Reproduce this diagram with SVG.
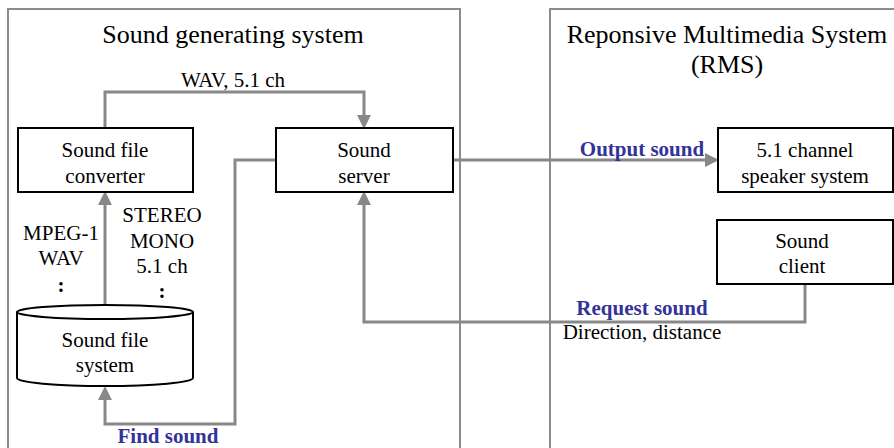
<svg xmlns="http://www.w3.org/2000/svg" width="894" height="448" viewBox="0 0 894 448">
  <style>
    text { font-family: "Liberation Serif", "Times New Roman", serif; fill: #000; text-anchor: middle; }
    .title { font-size: 26px; }
    .lbl { font-size: 21px; }
    .dots { font-size: 21px; font-weight: bold; }
    .blue { font-size: 21px; font-weight: bold; fill: #333399; }
    .panel { fill: none; stroke: #8c8c8c; stroke-width: 2; }
    .box { fill: #fff; stroke: #000; stroke-width: 2; }
    .wire { fill: none; stroke: #888; stroke-width: 3; }
  </style>
  <defs>
    <marker id="arrow" markerUnits="userSpaceOnUse" markerWidth="14" markerHeight="14" viewBox="0 0 13 13" refX="1" refY="6.5" orient="auto">
      <path d="M0,0 L13,6.5 L0,13 z" fill="#888"/>
    </marker>
  </defs>

  <rect width="894" height="448" fill="#fff"/>

  <!-- system panels -->
  <g id="panel-sound-generating">
    <rect class="panel" x="8" y="9" width="452" height="460"/>
    <text class="title" x="233" y="43">Sound generating system</text>
  </g>
  <g id="panel-rms">
    <rect class="panel" x="550" y="9" width="400" height="460"/>
    <text class="title" x="727" y="43">Reponsive Multimedia System</text>
    <text class="title" x="727" y="73">(RMS)</text>
  </g>

  <!-- connectors -->
  <g id="connectors">
    <path class="wire" d="M105,128 V92 H364 V116" marker-end="url(#arrow)"/>
    <path class="wire" d="M105,304 V204" marker-end="url(#arrow)"/>
    <path class="wire" d="M453,160 H706" marker-end="url(#arrow)"/>
    <path class="wire" d="M805,284 V322 H364 V204" marker-end="url(#arrow)"/>
    <path class="wire" d="M276,160 H235 V424 H105 V399" marker-end="url(#arrow)"/>
    <text class="lbl" x="233" y="87">WAV, 5.1 ch</text>
    <text class="blue" x="642" y="156">Output sound</text>
    <text class="blue" x="642" y="315">Request sound</text>
    <text class="lbl" x="642" y="339">Direction, distance</text>
    <text class="blue" x="168" y="443">Find sound</text>
    <text class="lbl" x="61" y="240">MPEG-1</text>
    <text class="lbl" x="61" y="265">WAV</text>
    <text class="dots" x="61" y="292">:</text>
    <text class="lbl" x="162" y="222">STEREO</text>
    <text class="lbl" x="162" y="248">MONO</text>
    <text class="lbl" x="162" y="273">5.1 ch</text>
    <text class="dots" x="162" y="298">:</text>
  </g>

  <!-- nodes -->
  <g id="sound-file-converter">
    <rect class="box" x="18" y="128" width="175" height="64"/>
    <text class="lbl" x="105" y="157">Sound file</text>
    <text class="lbl" x="105" y="183">converter</text>
  </g>
  <g id="sound-server">
    <rect class="box" x="276" y="128" width="177" height="64"/>
    <text class="lbl" x="364" y="157">Sound</text>
    <text class="lbl" x="364" y="183">server</text>
  </g>
  <g id="speaker-system">
    <rect class="box" x="718" y="128" width="175" height="64"/>
    <text class="lbl" x="805" y="157">5.1 channel</text>
    <text class="lbl" x="805" y="183">speaker system</text>
  </g>
  <g id="sound-client">
    <rect class="box" x="717" y="220" width="176" height="64"/>
    <text class="lbl" x="802" y="248">Sound</text>
    <text class="lbl" x="802" y="273">client</text>
  </g>
  <g id="sound-file-system">
    <path class="box" d="M17,312 V378 A88,8 0 0 0 193,378 V312"/>
    <ellipse class="box" cx="105" cy="312" rx="88" ry="7"/>
    <text class="lbl" x="105" y="347">Sound file</text>
    <text class="lbl" x="105" y="372">system</text>
  </g>
</svg>
